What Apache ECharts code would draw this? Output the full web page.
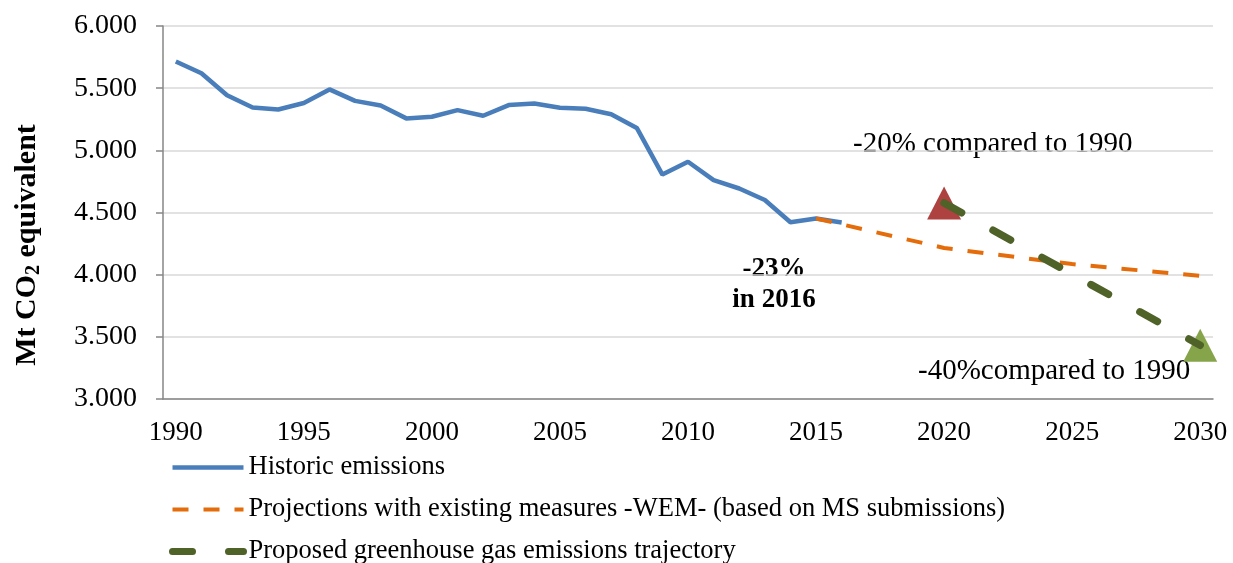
<!DOCTYPE html>
<html>
<head>
    <meta http-equiv="Content-Type" content="text/html; charset=utf-8" />
    <title>GHG emissions</title>
    <script src="https://cdn.jsdelivr.net/npm/echarts@6/dist/echarts.min.js"></script>
    <style>
        html, body { margin: 0; padding: 0; background: #fff; }
    </style>
</head>
<body>
    <div id="main" style="width: 1233px;height:563px;"></div>
    <script type="text/javascript">

    // years on the category axis
    var years = [];
    for (var y = 1990; y <= 2030; y++) years.push(String(y));

    // historic emissions 1990-2016, Mt CO2 eq
    var historic = [5715, 5620, 5443, 5345, 5328, 5381, 5490, 5398, 5360, 5257,
                    5270, 5323, 5278, 5364, 5376, 5342, 5334, 5290, 5180, 4805,
                    4908, 4760, 4693, 4600, 4422, 4452, 4420];

    // WEM projection (only the known years, rest left empty)
    var wemYears = ['2015', '2020', '2025', '2030'];
    var wemValues = [4452, 4215, 4085, 3990];

    // proposed trajectory: -20% in 2020, -40% in 2030
    var trajYears = ['2020', '2030'];
    var trajValues = [4576, 3432];

    var FONT = 'Liberation Serif';

    var names = ['Historic emissions',
                 'Projections with existing measures -WEM- (based on MS submissions)',
                 'Proposed greenhouse gas emissions trajectory'];

    function sparse(ys, vals) {
        var out = years.map(function () { return null; });
        ys.forEach(function (yr, i) { out[years.indexOf(yr)] = vals[i]; });
        return out;
    }

    var myChart = echarts.init(document.getElementById('main'));

    var option = {
        animation: false,
        backgroundColor: '#fff',
        grid: { left: 163, right: 20, top: 26, bottom: 164 },
        legend: {
            orient: 'vertical',
            left: 169,
            top: 454,
            height: 140,
            padding: 0,
            itemWidth: 71,
            itemHeight: 14,
            itemGap: 15,
            itemStyle: { opacity: 0 },
            textStyle: { fontFamily: FONT, fontSize: 26.5, color: '#000', lineHeight: 27 },
            data: [
                { name: names[0], lineStyle: { width: 4.5 } },
                { name: names[1], lineStyle: { width: 4 } },
                { name: names[2], lineStyle: { width: 7 } }
            ]
        },
        xAxis: {
            type: 'category',
            data: years,
            boundaryGap: true,
            axisLine: { lineStyle: { color: '#868686', width: 1.5 } },
            axisTick: { interval: 0, length: 7, lineStyle: { color: '#868686', width: 1.5 } },
            axisLabel: { interval: 4, margin: 20, fontFamily: FONT, fontSize: 27, color: '#000' },
            splitLine: { show: false }
        },
        yAxis: {
            type: 'value',
            min: 3000,
            max: 6000,
            interval: 500,
            axisLine: { show: true, lineStyle: { color: '#868686', width: 1.5 } },
            axisTick: { show: true, length: 7, lineStyle: { color: '#868686', width: 1.5 } },
            axisLabel: {
                margin: 26, fontFamily: FONT, fontSize: 28, color: '#000',
                formatter: function (v) {
                    var s = String(v);
                    return s.slice(0, s.length - 3) + '.' + s.slice(-3);
                }
            },
            splitLine: { lineStyle: { color: '#D9D9D9', width: 1.5 } }
        },
        graphic: [
            {
                type: 'text', x: 27, y: 245, rotation: Math.PI / 2,
                style: {
                    text: '{a|Mt CO}{b|2}{a| equivalent}',
                    align: 'center', verticalAlign: 'middle',
                    rich: {
                        a: { fontFamily: FONT, fontSize: 30, fontWeight: 'bold', fill: '#000' },
                        b: { fontFamily: FONT, fontSize: 20, fontWeight: 'bold', fill: '#000', padding: [14, 0, 0, 0] }
                    }
                }
            },
            {
                type: 'text', x: 853, y: 144,
                style: { text: '-20% compared to 1990', fontFamily: FONT, fontSize: 29, fill: '#000', verticalAlign: 'middle' }
            },
            {
                type: 'text', x: 918, y: 371,
                style: { text: '-40%compared to 1990', fontFamily: FONT, fontSize: 29, fill: '#000', verticalAlign: 'middle' }
            },
            {
                type: 'text', x: 774, y: 285,
                style: {
                    text: '-23%\nin 2016', fontFamily: FONT, fontSize: 27, fontWeight: 'bold',
                    fill: '#000', align: 'center', verticalAlign: 'middle', lineHeight: 31
                }
            }
        ],
        series: [
            {
                name: 'target2020', type: 'scatter',
                symbol: 'triangle', symbolSize: [34, 33],
                itemStyle: { color: '#AE4240', opacity: 1 },
                data: [[trajYears[0], trajValues[0]]]
            },
            {
                name: 'target2030', type: 'scatter',
                symbol: 'triangle', symbolSize: [34, 33],
                itemStyle: { color: '#86A44A', opacity: 1 },
                data: [[trajYears[1], trajValues[1]]]
            },
            {
                name: names[0], type: 'line',
                symbol: 'none',
                lineStyle: { color: '#4A7EBB', width: 4.5 },
                itemStyle: { color: '#4A7EBB' },
                data: historic
            },
            {
                name: names[1], type: 'line',
                symbol: 'none', connectNulls: true,
                lineStyle: { color: '#E46C0A', width: 4, type: [16, 15] },
                itemStyle: { color: '#E46C0A' },
                data: sparse(wemYears, wemValues)
            },
            {
                name: names[2], type: 'line',
                symbol: 'none', connectNulls: true,
                lineStyle: { color: '#4F6228', width: 7.5, type: [20, 36], cap: 'round' },
                itemStyle: { color: '#4F6228' },
                data: sparse(trajYears, trajValues)
            }
        ]
    };

    myChart.setOption(option);
    </script>
</body>
</html>
